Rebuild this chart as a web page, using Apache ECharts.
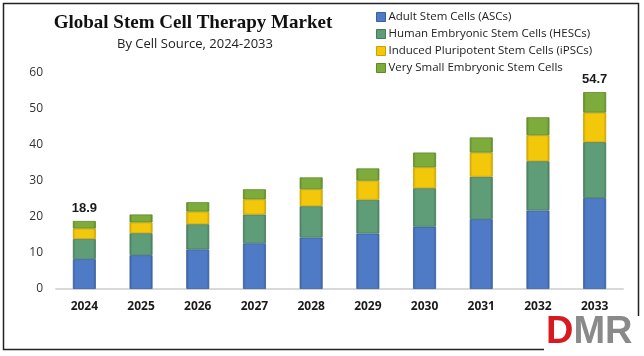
<!DOCTYPE html>
<html>
<head>
<meta charset="utf-8">
<script src="https://cdn.jsdelivr.net/npm/echarts@6/dist/echarts.min.js"></script>
<style>
html,body{margin:0;padding:0;background:#fff;}
#chart{width:644px;height:356px;}
</style>
</head>
<body>
<div id="chart"></div>
<script>
const years = ['2024','2025','2026','2027','2028','2029','2030','2031','2032','2033'];
const seriesNames = ['Adult Stem Cells (ASCs)','Human Embryonic Stem Cells (HESCs)','Induced Pluripotent Stem Cells (iPSCs)','Very Small Embryonic Stem Cells'];
const ascs  = [8.3, 9.4, 11.0, 12.7, 14.3, 15.4, 17.3, 19.4, 21.8, 25.3];
const hescs = [5.6, 6.1, 7.0, 8.0, 8.7, 9.4, 10.7, 11.8, 13.7, 15.5];
const ipscs = [2.9, 3.0, 3.5, 4.2, 4.7, 5.3, 5.8, 6.7, 7.2, 8.2];
const vsels = [2.1, 2.2, 2.6, 2.8, 3.3, 3.4, 4.1, 4.2, 5.0, 5.7];
const totalLabels = {0: '18.9', 9: '54.7'};
const yTicks = [0, 10, 20, 30, 40, 50, 60];

const colors = ['#4F7BC6', '#5F9D78', '#F4C80A', '#7EAC3C'];
const borders = ['#3A5E9E', '#477A5C', '#C9A200', '#5E8829'];

function grad(i) {
  return new echarts.graphic.LinearGradient(0, 0, 1, 0, [
    {offset: 0, color: borders[i]},
    {offset: 0.12, color: colors[i]},
    {offset: 0.88, color: colors[i]},
    {offset: 1, color: borders[i]}
  ]);
}

const dataSets = [ascs, hescs, ipscs, vsels];
const chart = echarts.init(document.getElementById('chart'), null, {renderer: 'canvas'});

const series = dataSets.map((d, i) => ({
  name: seriesNames[i],
  type: 'bar',
  stack: 'total',
  barWidth: 23,
  data: d,
  itemStyle: {color: grad(i), borderColor: borders[i], borderWidth: 0.8},
  label: i === 3 ? {
    show: true,
    position: 'top',
    distance: 6,
    formatter: p => totalLabels[p.dataIndex] || '',
    fontFamily: 'Liberation Sans',
    fontWeight: 'bold',
    fontSize: 13,
    color: '#1a1a1a'
  } : {show: false}
}));

chart.setOption({
  animation: false,
  color: colors,
  title: [
    {
      text: 'Global Stem Cell Therapy Market',
      left: 188, top: 9, textAlign: 'center',
      textStyle: {fontFamily: 'Liberation Serif', fontWeight: 'bold', fontSize: 19, color: '#111'}
    },
    {
      text: 'By Cell Source, 2024-2033',
      left: 190, top: 33, textAlign: 'center',
      textStyle: {fontFamily: 'Open Sans', fontWeight: 'normal', fontSize: 13, color: '#222'}
    }
  ],
  legend: {
    orient: 'vertical',
    left: 371, top: 6,
    itemWidth: 9, itemHeight: 9, itemGap: 5,
    icon: 'rect',
    textStyle: {fontFamily: 'Open Sans', fontSize: 11.5, color: '#222', padding: [0, 0, 0, -2]},
    data: seriesNames.map((n, i) => ({name: n, itemStyle: {color: colors[i], borderColor: borders[i], borderWidth: 1}}))
  },
  grid: {left: 56, right: 21, top: 73, bottom: 67},
  xAxis: {
    type: 'category',
    data: years,
    axisLine: {lineStyle: {color: '#D9D9D9', width: 2}},
    axisTick: {show: false},
    axisLabel: {fontFamily: 'Open Sans', fontWeight: 'bold', fontSize: 12, color: '#1a1a1a', margin: 12}
  },
  yAxis: {
    type: 'value',
    min: yTicks[0], max: yTicks[yTicks.length - 1], interval: 10,
    splitLine: {show: false},
    axisLine: {show: false},
    axisTick: {show: false},
    axisLabel: {fontFamily: 'Open Sans', fontSize: 12, color: '#333', margin: 13}
  },
  graphic: [
    {type: 'rect', shape: {x: 3.5, y: 3.5, width: 635, height: 346}, style: {fill: 'none', stroke: '#222', lineWidth: 1.5}, z: 100},
    {type: 'rect', shape: {x: 544, y: 316, width: 98, height: 38}, style: {fill: '#fff'}, z: 101},
    {
      type: 'text', left: 546, top: 314, z: 102,
      style: {
        text: '{d|D}{m|M}{r|R}',
        rich: {
          d: {fontFamily: 'Liberation Sans', fontWeight: 'bold', fontSize: 38, fill: '#D71920'},
          m: {fontFamily: 'Liberation Sans', fontWeight: 'bold', fontSize: 38, fill: '#8A8A8A'},
          r: {fontFamily: 'Liberation Sans', fontWeight: 'bold', fontSize: 38, fill: '#8A8A8A'}
        }
      }
    }
  ],
  series: series
});
</script>
</body>
</html>
